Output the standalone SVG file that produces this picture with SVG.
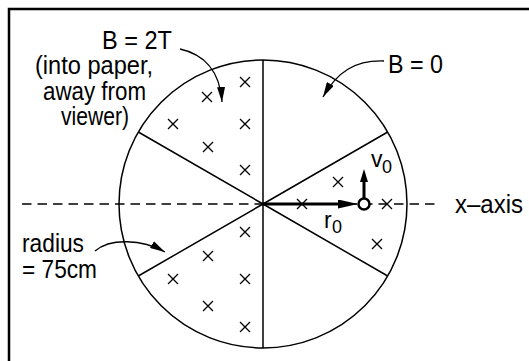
<svg xmlns="http://www.w3.org/2000/svg" xmlns:xlink="http://www.w3.org/1999/xlink" width="529" height="361" viewBox="0 0 529 361">
<defs>
<style>
.ln{fill:none;stroke:#000;stroke-width:1.5}
.thin{fill:none;stroke:#000;stroke-width:1.3}
.dash{fill:none;stroke:#000;stroke-width:1.3;stroke-dasharray:9.5 6}
.thick{fill:none;stroke:#000;stroke-width:3}
.xm{fill:none;stroke:#000;stroke-width:1.3}
.t{font-family:"Liberation Sans","Arial Narrow",Arial,sans-serif;font-size:26px;fill:#000}
.s{font-size:23px}
.sub{font-size:18px}
</style>
<path id="xm" class="xm" d="M-5,-5 L5,5 M-5,5 L5,-5"/>
<marker id="call" markerUnits="userSpaceOnUse" viewBox="0 0 15 8" refX="15" refY="4" markerWidth="15" markerHeight="8" orient="auto">
<path d="M0,0 L15,4 L0,8 z" fill="#000"/>
</marker>
<marker id="big" markerUnits="userSpaceOnUse" viewBox="0 0 20 9" refX="0" refY="4.5" markerWidth="20" markerHeight="9" orient="auto">
<path d="M0,0 L20,4.5 L0,9 z" fill="#000"/>
</marker>
<marker id="vel" markerUnits="userSpaceOnUse" viewBox="0 0 13 8" refX="0" refY="4" markerWidth="13" markerHeight="8" orient="auto">
<path d="M0,0 L13,4 L0,8 z" fill="#000"/>
</marker>
</defs>
<rect width="529" height="361" fill="#fff"/>
<g id="frame">
<path d="M9,361 L9,9 L529,9" fill="none" stroke="#000" stroke-width="2.5"/>
</g>
<g id="axis">
<line class="dash" x1="22" y1="204" x2="440" y2="204"/>
</g>
<g id="disc">
<circle class="ln" cx="263" cy="204" r="144" fill="none"/>
<path class="ln" d="M263,60 L263,348 M263,204 L387.7,132 M263,204 L138.3,132 M263,204 L138.3,276 M263,204 L387.7,276"/>
</g>
<g id="field-upper">
<use xlink:href="#xm" x="245" y="82"/>
<use xlink:href="#xm" x="207" y="97"/>
<use xlink:href="#xm" x="173" y="124"/>
<use xlink:href="#xm" x="245" y="124"/>
<use xlink:href="#xm" x="208" y="147"/>
<use xlink:href="#xm" x="245" y="170"/>
</g>
<g id="field-lower">
<use xlink:href="#xm" x="245" y="232"/>
<use xlink:href="#xm" x="208" y="256"/>
<use xlink:href="#xm" x="173" y="279"/>
<use xlink:href="#xm" x="245" y="279"/>
<use xlink:href="#xm" x="208" y="306"/>
<use xlink:href="#xm" x="245" y="327"/>
</g>
<g id="field-right">
<use xlink:href="#xm" x="338" y="182"/>
<use xlink:href="#xm" x="302" y="204"/>
<use xlink:href="#xm" x="387" y="204"/>
<use xlink:href="#xm" x="377" y="244"/>
</g>
<g id="connectors">
<path class="thin" d="M180,49 C203,54 220,70 222,102" marker-end="url(#call)"/>
<path class="thin" d="M384,61 C355,60 337,72 323,97" marker-end="url(#call)"/>
<path class="thin" d="M95,251 C110,238 142,239 165,252" marker-end="url(#call)"/>
<line class="thick" x1="263" y1="204" x2="338" y2="204" marker-end="url(#big)"/>
<line class="thick" x1="364" y1="198" x2="364" y2="182" marker-end="url(#vel)"/>
</g>
<g id="particle">
<circle cx="364" cy="204" r="5.5" fill="#fff" stroke="#000" stroke-width="2.5"/>
</g>
<g id="label-b2t">
<text class="t" x="102" y="49" textLength="70" lengthAdjust="spacingAndGlyphs">B = 2T</text>
<text class="t" x="35" y="74" textLength="118" lengthAdjust="spacingAndGlyphs">(into paper,</text>
<text class="t" x="43" y="99.5" textLength="103" lengthAdjust="spacingAndGlyphs">away from</text>
<text class="t" x="61" y="125" textLength="68" lengthAdjust="spacingAndGlyphs">viewer)</text>
</g>
<g id="label-b0">
<text class="t" x="388" y="73" textLength="55" lengthAdjust="spacingAndGlyphs">B = 0</text>
</g>
<g id="label-radius">
<text class="t" x="22" y="252" textLength="62" lengthAdjust="spacingAndGlyphs">radius</text>
<text class="t" x="22" y="278" textLength="75" lengthAdjust="spacingAndGlyphs">= 75cm</text>
</g>
<g id="label-axis">
<text class="t" x="455" y="213" textLength="68" lengthAdjust="spacingAndGlyphs">x–axis</text>
</g>
<g id="label-v0">
<text class="t s" x="371" y="167">v<tspan class="sub" x="382" y="173">0</tspan></text>
</g>
<g id="label-r0">
<text class="t s" x="324" y="228">r<tspan class="sub" x="332" y="233">0</tspan></text>
</g>
</svg>
